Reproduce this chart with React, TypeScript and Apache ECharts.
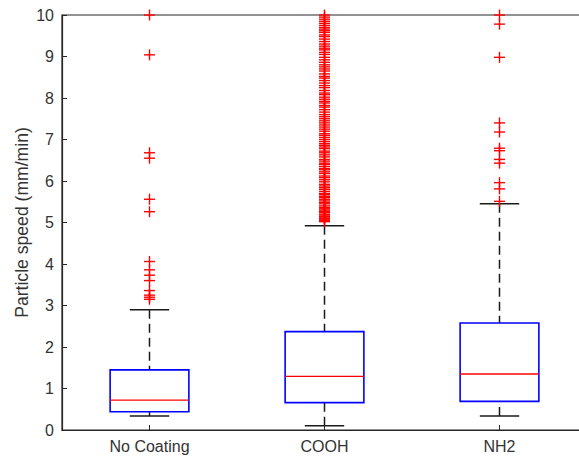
import React, { useEffect, useRef } from "react";
import * as echarts from "echarts";

const categories = ["No Coating", "COOH", "NH2"];
const lowerWhisker = [0.34, 0.1, 0.34];
const q1 = [0.44, 0.66, 0.69];
const median = [0.72, 1.29, 1.35];
const q3 = [1.45, 2.37, 2.58];
const upperWhisker = [2.9, 4.92, 5.45];

const outliersNoCoating = [10.0, 9.04, 6.68, 6.55, 5.56, 5.26, 4.06, 3.86, 3.73, 3.6, 3.36, 3.25, 3.2, 3.15];
const outliersCOOH = [
  5.02, 5.05, 5.08, 5.1, 5.13, 5.15, 5.18, 5.2, 5.24, 5.27, 5.3, 5.33, 5.36, 5.4, 5.45, 5.48, 5.52,
  5.56, 5.6, 5.63, 5.67, 5.7, 5.75, 5.8, 5.84, 5.88, 5.92, 5.98, 6.03, 6.08, 6.12, 6.18, 6.22, 6.27,
  6.3, 6.35, 6.4, 6.43, 6.48, 6.52, 6.58, 6.63, 6.68, 6.72, 6.78, 6.82, 6.86, 6.9, 6.95, 7.0, 7.05,
  7.1, 7.14, 7.2, 7.25, 7.3, 7.35, 7.4, 7.45, 7.5, 7.55, 7.6, 7.66, 7.72, 7.78, 7.82, 7.88, 7.92,
  7.97, 8.02, 8.08, 8.12, 8.18, 8.25, 8.3, 8.36, 8.42, 8.48, 8.52, 8.58, 8.65, 8.7, 8.75, 8.8, 8.86,
  8.92, 8.98, 9.05, 9.1, 9.16, 9.2, 9.25, 9.3, 9.36, 9.42, 9.48, 9.52, 9.58, 9.62, 9.66, 9.7, 9.75,
  9.8, 9.85, 9.9, 9.95, 10.0,
];
const outliersNH2 = [10.0, 9.78, 8.98, 7.4, 7.18, 6.79, 6.73, 6.52, 6.43, 5.96, 5.81, 5.51];

const yTicks = [0, 1, 2, 3, 4, 5, 6, 7, 8, 9, 10];
const yTitle = "Particle speed (mm/min)";

const FONT = "'Liberation Sans', Arial, Helvetica, sans-serif";
const AXIS_COLOR = "#262626";
const TEXT_COLOR = "#333333";

const CHART_W = 600;
const CHART_H = 456;

export default function App() {
  const ref = useRef<HTMLDivElement>(null);

  useEffect(() => {
    document.body.style.margin = "0";
    if (!ref.current) return;
    const chart = echarts.init(ref.current, undefined, { renderer: "svg" });

    const boxData = categories.map((_, i) => [i, lowerWhisker[i], q1[i], median[i], q3[i], upperWhisker[i]]);
    const outlierData: number[][] = [];
    [outliersNoCoating, outliersCOOH, outliersNH2].forEach((arr, i) => {
      arr.forEach((v) => outlierData.push([i, v]));
    });

    const option: any = {
      animation: false,
      backgroundColor: "#ffffff",
      grid: {
        left: 62,
        top: 15,
        right: CHART_W - 587,
        bottom: 26,
        show: true,
        borderColor: AXIS_COLOR,
        borderWidth: 1.2,
        backgroundColor: "transparent",
      },
      xAxis: {
        type: "category",
        data: categories,
        boundaryGap: true,
        axisLine: { show: true, lineStyle: { color: AXIS_COLOR, width: 1.2 } },
        axisTick: { show: true, inside: true, alignWithLabel: true, length: 5, lineStyle: { color: AXIS_COLOR } },
        axisLabel: { color: TEXT_COLOR, fontFamily: FONT, fontSize: 16, margin: 8 },
        splitLine: { show: false },
      },
      yAxis: {
        type: "value",
        min: yTicks[0],
        max: yTicks[yTicks.length - 1],
        interval: 1,
        name: yTitle,
        nameLocation: "middle",
        nameGap: 31,
        nameMoveOverlap: false,
        nameTextStyle: { color: TEXT_COLOR, fontFamily: FONT, fontSize: 17.6 },
        axisLine: { show: true, lineStyle: { color: AXIS_COLOR, width: 1.2 } },
        axisTick: { show: true, inside: true, length: 5, lineStyle: { color: AXIS_COLOR } },
        axisLabel: { color: TEXT_COLOR, fontFamily: FONT, fontSize: 16, margin: 8 },
        splitLine: { show: false },
      },
      series: [
        {
          type: "custom",
          data: boxData,
          renderItem: (params: any, api: any) => {
            const idx = api.value(0);
            const band = api.size([1, 0])[0];
            const bw = band * 0.45;
            const cw = band * 0.225;
            const pLow = api.coord([idx, api.value(1)]);
            const pQ1 = api.coord([idx, api.value(2)]);
            const pMed = api.coord([idx, api.value(3)]);
            const pQ3 = api.coord([idx, api.value(4)]);
            const pHigh = api.coord([idx, api.value(5)]);
            const cx = pMed[0];
            const whiskerStyle = { stroke: "#1a1a1a", lineWidth: 1.5, lineDash: [9, 5] };
            const capStyle = { stroke: "#1a1a1a", lineWidth: 1.5 };
            return {
              type: "group",
              children: [
                { type: "line", shape: { x1: cx, y1: pHigh[1], x2: cx, y2: pQ3[1] }, style: whiskerStyle },
                { type: "line", shape: { x1: cx, y1: pLow[1], x2: cx, y2: pQ1[1] }, style: whiskerStyle },
                { type: "line", shape: { x1: cx - cw / 2, y1: pHigh[1], x2: cx + cw / 2, y2: pHigh[1] }, style: capStyle },
                { type: "line", shape: { x1: cx - cw / 2, y1: pLow[1], x2: cx + cw / 2, y2: pLow[1] }, style: capStyle },
                {
                  type: "rect",
                  shape: { x: cx - bw / 2, y: pQ3[1], width: bw, height: pQ1[1] - pQ3[1] },
                  style: { fill: "none", stroke: "#0000ff", lineWidth: 1.6 },
                },
                {
                  type: "line",
                  shape: { x1: cx - bw / 2, y1: pMed[1], x2: cx + bw / 2, y2: pMed[1] },
                  style: { stroke: "#ff0000", lineWidth: 1.3 },
                },
              ],
            };
          },
          z: 3,
        },
        {
          type: "custom",
          data: outlierData,
          renderItem: (params: any, api: any) => {
            const p = api.coord([api.value(0), api.value(1)]);
            const h = 5.5;
            const st = { stroke: "#ff0000", lineWidth: 1.4 };
            return {
              type: "group",
              children: [
                { type: "line", shape: { x1: p[0] - h, y1: p[1], x2: p[0] + h, y2: p[1] }, style: st },
                { type: "line", shape: { x1: p[0], y1: p[1] - h, x2: p[0], y2: p[1] + h }, style: st },
              ],
            };
          },
          z: 4,
        },
      ],
    };

    chart.setOption(option);
    return () => chart.dispose();
  }, []);

  return (
    <div style={{ width: 579, height: 456, overflow: "hidden", position: "relative" }}>
      <div ref={ref} style={{ width: CHART_W, height: CHART_H }} />
    </div>
  );
}
